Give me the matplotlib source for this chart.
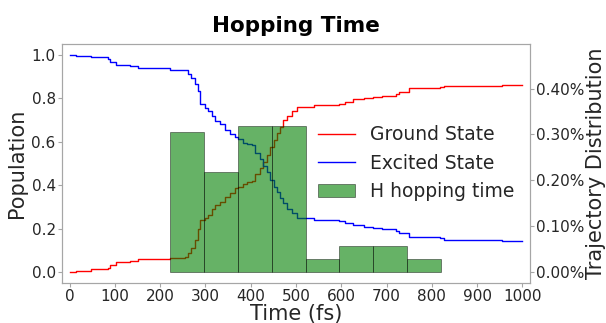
import matplotlib
matplotlib.use("Agg")
import matplotlib.pyplot as plt
from matplotlib.ticker import PercentFormatter

# population curves
time_fs = [0, 15, 48, 85, 90, 103, 133, 151, 221, 255, 262, 269, 277, 283, 288,
           299, 306, 314, 322, 332, 343, 354, 365, 372, 383, 391, 402, 410, 420,
           427, 435, 443, 451, 457, 465, 472, 481, 491, 502, 539, 594, 609, 627,
           650, 671, 690, 720, 727, 749, 819, 826, 956, 1000]
excited = [1.0, 0.994, 0.988, 0.98, 0.968, 0.954, 0.948, 0.938, 0.932, 0.929,
           0.911, 0.895, 0.864, 0.834, 0.773, 0.757, 0.741, 0.72, 0.696, 0.68,
           0.655, 0.636, 0.62, 0.614, 0.596, 0.588, 0.585, 0.55, 0.519, 0.49,
           0.46, 0.426, 0.39, 0.37, 0.34, 0.319, 0.29, 0.27, 0.249, 0.242, 0.234,
           0.226, 0.215, 0.208, 0.203, 0.198, 0.19, 0.18, 0.162, 0.157, 0.149,
           0.143, 0.143]
ground = [0.0, 0.006, 0.013, 0.02, 0.033, 0.045, 0.051, 0.061, 0.066, 0.07,
          0.09, 0.11, 0.15, 0.2, 0.242, 0.247, 0.262, 0.29, 0.31, 0.322, 0.345,
          0.362, 0.385, 0.39, 0.405, 0.415, 0.42, 0.45, 0.48, 0.505, 0.54,
          0.575, 0.61, 0.64, 0.67, 0.70, 0.72, 0.74, 0.762, 0.768, 0.776, 0.784,
          0.795, 0.80, 0.806, 0.81, 0.818, 0.83, 0.846, 0.852, 0.857, 0.862,
          0.862]

# hopping time histogram
hop_edges = [221, 296, 371, 446, 521, 596, 671, 746, 821]
hop_counts = [21, 15, 22, 22, 2, 4, 4, 2]
hop_centers = [(a + b) / 2 for a, b in zip(hop_edges[:-1], hop_edges[1:])]

plt.rcParams['font.family'] = 'DejaVu Sans'
txt = '0.15'
edge = '0.65'

fig = plt.figure(figsize=(6.06, 3.23), dpi=100)
ax1 = fig.add_axes([62 / 606, 1 - 283 / 323, 468 / 606, 239 / 323])
ax2 = ax1.twinx()

l1, = ax1.plot(time_fs, ground, color='red', lw=1, drawstyle='steps-post')
l2, = ax1.plot(time_fs, excited, color='blue', lw=1, drawstyle='steps-post')
_, _, bars = ax2.hist(hop_centers, bins=hop_edges, weights=hop_counts,
                      density=True, color='green', alpha=0.6,
                      edgecolor='black', linewidth=0.5)

ax1.set_xlim(-17, 1017)
ax1.set_ylim(-0.05, 1.05)
ax2.set_ylim(-0.000234, 0.00497)
ax1.set_xticks(range(0, 1001, 100))
ax1.set_yticks([0, 0.2, 0.4, 0.6, 0.8, 1.0])
ax2.set_yticks([0, 0.001, 0.002, 0.003, 0.004])
ax2.yaxis.set_major_formatter(PercentFormatter(xmax=1, decimals=2))

for ax in (ax1, ax2):
    for s in ax.spines.values():
        s.set_color(edge)
        s.set_linewidth(0.8)
    ax.tick_params(labelsize=11, colors=edge, labelcolor=txt, length=3,
                   width=0.8, pad=1.5)
ax1.tick_params(axis='x', pad=1)

ax1.set_xlabel('Time (fs)', fontsize=15, color=txt, labelpad=0)
ax1.set_ylabel('Population', fontsize=15, color=txt, labelpad=3)
ax2.set_ylabel('Trajectory Distribution', fontsize=15, color=txt,
               labelpad=1)
ax1.set_title('Hopping Time', fontsize=15.5, fontweight='bold', pad=9)

ax2.legend([l1, l2, bars[0]], ['Ground State', 'Excited State',
                               'H hopping time'],
           loc='center left', frameon=False,
           bbox_to_anchor=(310 / 606, 1 - 163 / 323),
           bbox_transform=fig.transFigure, borderaxespad=0, fontsize=13.5,
           labelcolor=txt)

fig.savefig('out.png', dpi=100)
